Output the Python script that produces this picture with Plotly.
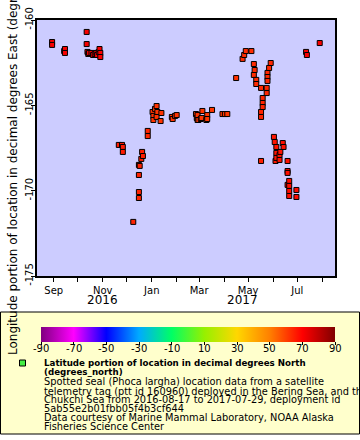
import plotly.graph_objects as go

# ---- data ----
dates = [
    "2016-08-30", "2016-08-30", "2016-09-14", "2016-09-15", "2016-09-15",
    "2016-10-12", "2016-10-12", "2016-10-13", "2016-10-14", "2016-10-15",
    "2016-10-18", "2016-10-20", "2016-10-22", "2016-10-24", "2016-10-25",
    "2016-10-27", "2016-10-28", "2016-10-29", "2016-10-29",
    "2016-11-21", "2016-11-25", "2016-11-26", "2016-11-26", "2016-12-09",
    "2016-12-16", "2016-12-16", "2016-12-16", "2016-12-16", "2016-12-17",
    "2016-12-19", "2016-12-20", "2016-12-21", "2016-12-27", "2016-12-27",
    "2017-01-02", "2017-01-03", "2017-01-03", "2017-01-05", "2017-01-07",
    "2017-01-07", "2017-01-08", "2017-01-12", "2017-01-13", "2017-01-26",
    "2017-01-27", "2017-01-30", "2017-02-01",
    "2017-02-25", "2017-02-26", "2017-02-27", "2017-02-27", "2017-02-28",
    "2017-03-03", "2017-03-04", "2017-03-05", "2017-03-10", "2017-03-11",
    "2017-03-11", "2017-03-17", "2017-03-30", "2017-04-02", "2017-04-05",
    "2017-04-16", "2017-04-24", "2017-04-26", "2017-04-28", "2017-05-05",
    "2017-05-08", "2017-05-08", "2017-05-09", "2017-05-11", "2017-05-11",
    "2017-05-17", "2017-05-17", "2017-05-17", "2017-05-17", "2017-05-19",
    "2017-05-19", "2017-05-19", "2017-05-24", "2017-05-24", "2017-05-25",
    "2017-05-25", "2017-05-25", "2017-05-27", "2017-05-29",
    "2017-06-02", "2017-06-03", "2017-06-04", "2017-06-05", "2017-06-05",
    "2017-06-05", "2017-06-09", "2017-06-09", "2017-06-10", "2017-06-13",
    "2017-06-14", "2017-06-19", "2017-06-19", "2017-06-19", "2017-06-19",
    "2017-06-21", "2017-06-21", "2017-06-21", "2017-06-21", "2017-06-30",
    "2017-06-30", "2017-07-12", "2017-07-13", "2017-07-29",
]
longitudes = [
    -161.29, -161.46, -161.82, -161.70, -161.93,
    -160.70, -161.41, -161.87, -161.99, -161.93,
    -161.93, -162.05, -161.99, -161.93, -162.05,
    -161.87, -161.70, -161.93, -162.17,
    -167.32, -167.32, -167.44, -167.73, -171.83,
    -168.49, -169.08, -170.08, -170.43, -168.55,
    -168.14, -167.73, -167.97, -166.50, -166.80,
    -165.39, -165.62, -165.86, -165.21, -165.04,
    -165.68, -165.39, -165.92, -165.45, -165.68,
    -165.80, -165.62, -165.57,
    -165.51, -165.74, -165.86, -165.57, -165.86,
    -165.80, -165.74, -165.33, -165.86, -165.57,
    -165.80, -165.27, -165.51, -165.51, -165.51,
    -163.40, -162.28, -162.05, -161.82, -161.82,
    -162.58, -163.22, -162.93, -163.51, -163.75,
    -163.98, -165.39, -165.68, -168.26, -164.57,
    -164.86, -165.10, -163.98, -164.28, -163.10,
    -163.34, -163.57, -162.81, -162.52,
    -166.85, -167.15, -168.26, -167.44, -167.79,
    -168.08, -167.91, -168.20, -167.73, -167.21,
    -167.44, -168.26, -168.85, -168.96, -169.66,
    -169.43, -169.72, -170.02, -170.31, -169.96,
    -170.37, -161.87, -162.05, -161.35,
]
latitudes = [
    71.0, 71.0, 71.0, 71.1, 71.0,
    71.2, 71.0, 70.9, 70.8, 70.8,
    70.7, 70.7, 70.7, 70.6, 70.6,
    70.6, 70.5, 70.5, 70.5,
    66.0, 66.0, 65.9, 65.8, 64.5,
    65.0, 64.8, 64.5, 64.4, 65.0,
    65.2, 65.3, 65.2, 64.0, 64.0,
    62.0, 62.0, 62.0, 62.0, 62.0,
    62.0, 62.0, 62.0, 62.0, 61.8,
    61.8, 61.8, 61.8,
    61.5, 61.5, 61.5, 61.5, 61.5,
    61.5, 61.5, 61.5, 61.5, 61.5,
    61.5, 61.6, 61.6, 61.6, 61.6,
    62.5, 63.0, 63.0, 63.2, 63.2,
    63.3, 63.3, 63.3, 63.4, 63.4,
    63.8, 64.5, 64.5, 65.0, 64.2,
    64.3, 64.4, 63.9, 64.0, 64.0,
    64.0, 64.0, 64.0, 64.0,
    66.5, 66.8, 66.5, 67.0, 67.0,
    66.8, 67.2, 67.0, 67.2, 67.5,
    67.5, 67.5, 67.8, 67.8, 68.0,
    68.0, 68.0, 68.2, 68.2, 68.5,
    68.5, 70.8, 70.8, 71.0,
]
colorbar_ticks = [-90, -70, -50, -30, -10, 10, 30, 50, 70, 90]
color_min, color_max = -90, 90
y_ticks = [-175, -170, -165, -160]
x_tick_start = "2016-09-01"
x_range = ["2016-08-11 05:00", "2017-08-17"]
y_range = [-175, -160]
year_labels = ["2016", "2017"]
year_label_dates = ["2016-11-01", "2017-04-24"]
legend_title = ["Latitude portion of location in decimal degrees North", "(degrees_north)"]
legend_lines = [
    "Spotted seal (Phoca largha) location data from a satellite",
    "telemetry tag (ptt id 160960) deployed in the Bering Sea, and the",
    "Chukchi Sea from 2016-08-17 to 2017-07-29, deployment id",
    "5ab55e2b01fbb05f4b3cf644",
    "Data courtesy of Marine Mammal Laboratory, NOAA Alaska",
    "Fisheries Science Center",
]

colorscale = [
    [0 / 9, "rgb(128,0,128)"],
    [1 / 9, "rgb(255,0,255)"],
    [2 / 9, "rgb(0,0,255)"],
    [3 / 9, "rgb(0,170,255)"],
    [4 / 9, "rgb(0,255,100)"],
    [5 / 9, "rgb(150,240,0)"],
    [6 / 9, "rgb(255,215,0)"],
    [7 / 9, "rgb(255,128,0)"],
    [8 / 9, "rgb(255,0,0)"],
    [9 / 9, "rgb(128,0,0)"],
]

FONT = "DejaVu Sans"
W, H = 360, 440
L, R, T, B = 37, 25, 20, 164
PW, PH = W - L - R, H - T - B
CB_X0, CB_LEN = 41, 294


def px(xp):
    return (xp - L) / PW


def py(yp):
    return (H - B - yp) / PH


fig = go.Figure()
fig.add_trace(go.Scatter(
    x=dates, y=longitudes, mode="markers",
    marker=dict(
        symbol="square", size=5, color=latitudes, colorscale=colorscale,
        cmin=color_min, cmax=color_max, line=dict(color="black", width=1),
        colorbar=dict(
            orientation="h", x=px(CB_X0 + CB_LEN / 2), xanchor="center", y=py(327),
            yanchor="top", lenmode="pixels", len=CB_LEN, thicknessmode="pixels",
            thickness=15, tickvals=colorbar_ticks, showticklabels=False,
            ticks="outside", ticklen=3, tickcolor="black",
            outlinewidth=0, xpad=0, ypad=0,
        ),
    ),
    showlegend=False, hoverinfo="skip",
))

shapes = [
    dict(type="rect", xref="paper", yref="paper", x0=px(0.5), x1=px(359.5),
         y0=py(434), y1=py(312), fillcolor="#ffffcc", line=dict(color="black", width=1),
         layer="below"),
    dict(type="rect", xref="paper", yref="paper", x0=px(19.5), x1=px(25.5),
         y0=py(366), y1=py(360), fillcolor="#44ee44", line=dict(color="black", width=1),
         layer="above"),
]

annotations = []
for lbl, d in zip(year_labels, year_label_dates):
    annotations.append(dict(xref="x", yref="paper", x=d, y=py(300), text=lbl,
                            showarrow=False, xanchor="center", yanchor="middle",
                            font=dict(family=FONT, size=12, color="black")))
# colour-bar tick labels (placed along the bar by value)
for v in colorbar_ticks:
    xpix = CB_X0 + (v - color_min) / (color_max - color_min) * CB_LEN
    annotations.append(dict(xref="paper", yref="paper", x=px(xpix), y=py(348), text=str(v),
                            showarrow=False, xanchor="center", yanchor="middle",
                            font=dict(family=FONT, size=10, color="black")))
ys = [363, 372, 381.5, 391, 399.5, 408.5, 417.5, 426.5]
for i, (t, yy) in enumerate(zip(legend_title + legend_lines, ys)):
    bold = i < len(legend_title)
    annotations.append(dict(
        xref="paper", yref="paper", x=px(42), y=py(yy),
        text=("<b>%s</b>" % t) if bold else t,
        showarrow=False, xanchor="left", yanchor="middle",
        font=dict(family=FONT, size=8.7 if bold else 9.8, color="black")))

fig.update_layout(
    template="none", width=W, height=H,
    margin=dict(l=L, r=R, t=T, b=B, autoexpand=False),
    paper_bgcolor="white", plot_bgcolor="#ccccff",
    shapes=shapes, annotations=annotations,
    xaxis=dict(
        type="date", range=x_range, tick0=x_tick_start, dtick="M2", tickformat="%b",
        ticks="outside", ticklen=4, tickcolor="black", showgrid=False, zeroline=False,
        showline=True, linecolor="black", linewidth=1.5, mirror=True,
        minor=dict(dtick="M1", ticks="outside", ticklen=4, tickcolor="black", showgrid=False),
        tickfont=dict(family=FONT, size=10, color="black"), automargin=False,
    ),
    yaxis=dict(
        range=y_range, tickvals=y_ticks, ticktext=[str(v) for v in y_ticks], tickangle=-90,
        ticks="outside", ticklen=4, tickcolor="black", showgrid=False, zeroline=False,
        showline=True, linecolor="black", linewidth=1.5, mirror=True,
        ticklabelstandoff=-6,
        tickfont=dict(family=FONT, size=10, color="black"), automargin=False,
        title=dict(text="Longitude portion of location in decimal degrees East (degrees_east)",
                   font=dict(family=FONT, size=12, color="black"), standoff=4),
    ),
)

fig.write_html("out.html", config={"displayModeBar": False},
               post_script="document.body.style.margin='0px';")
